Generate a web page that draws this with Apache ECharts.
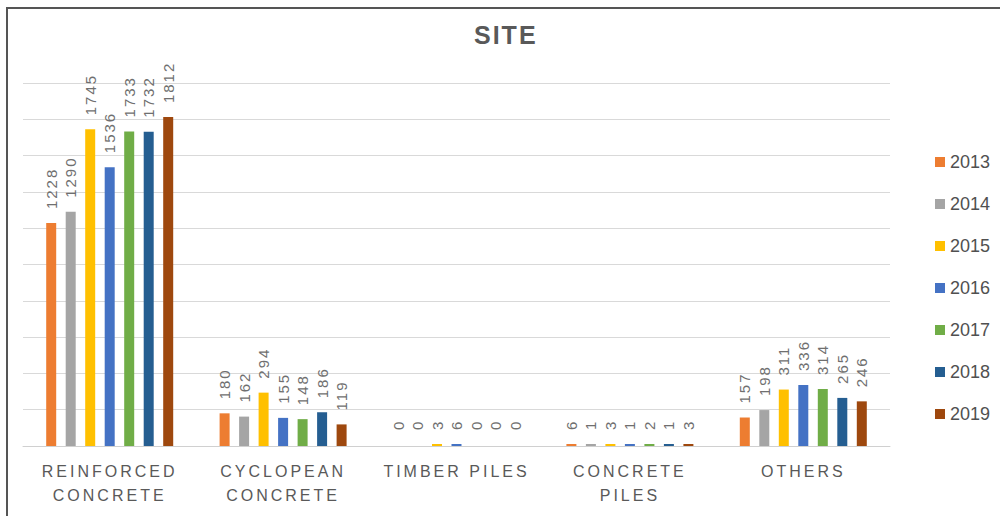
<!DOCTYPE html>
<html>
<head>
<meta charset="utf-8">
<title>SITE</title>
<script src="https://cdn.jsdelivr.net/npm/echarts@6/dist/echarts.min.js"></script>
<style>
  html, body { margin: 0; padding: 0; background: #fff; }
  #main { width: 1000px; height: 516px; }
  /* the original Excel chart uses spaced-out lettering */
  #main text[style*="25px"] { letter-spacing: 2px; }
  #main text[style*="16px"] { letter-spacing: 3px; }
  #main text[style*="15px"] { letter-spacing: 2px; }
</style>
</head>
<body>
<div id="main"></div>
<script>
// categories (wrapped like in the original)
const categories = ['REINFORCED\nCONCRETE', 'CYCLOPEAN\nCONCRETE', 'TIMBER PILES', 'CONCRETE\nPILES', 'OTHERS'];
const years = ['2013', '2014', '2015', '2016', '2017', '2018', '2019'];
const colors = ['#ED7D31', '#A5A5A5', '#FFC000', '#4472C4', '#70AD47', '#255E91', '#9E480E'];

// values per year, in category order
const v2013 = [1228, 180, 0, 6, 157];
const v2014 = [1290, 162, 0, 1, 198];
const v2015 = [1745, 294, 3, 3, 311];
const v2016 = [1536, 155, 6, 1, 336];
const v2017 = [1733, 148, 0, 2, 314];
const v2018 = [1732, 186, 0, 1, 265];
const v2019 = [1812, 119, 0, 3, 246];
const values = [v2013, v2014, v2015, v2016, v2017, v2018, v2019];

const chartDom = document.getElementById('main');
const myChart = echarts.init(chartDom, null, { renderer: 'svg' });

const series = years.map((y, i) => ({
  name: y,
  type: 'bar',
  barWidth: 10,
  barGap: '95%',
  barMinHeight: 2,
  itemStyle: { color: colors[i] },
  // zero values: keep the label, hide the min-height stub
  data: values[i].map(v => v === 0 ? { value: 0, itemStyle: { color: 'rgba(0,0,0,0)' } } : v),
  labelLayout: { hideOverlap: false },
  label: {
    show: true,
    position: 'top',
    rotate: 90,
    align: 'left',
    verticalAlign: 'middle',
    distance: 14,
    color: '#6f6f6f',
    fontSize: 15,
    fontFamily: 'Liberation Sans'
  }
}));

const option = {
  animation: false,
  backgroundColor: '#fff',
  color: colors,
  title: {
    text: 'SITE',
    left: 469,
    top: 17,
    textStyle: { fontSize: 25, fontWeight: 'bold', color: '#595959', fontFamily: 'Liberation Sans' }
  },
  legend: {
    orient: 'vertical',
    left: 930,
    top: 148,
    icon: 'rect',
    itemWidth: 10,
    itemHeight: 10,
    itemGap: 24,
    textStyle: { fontSize: 18, color: '#505050', fontFamily: 'Liberation Sans' },
    data: years
  },
  grid: { left: 23, right: 110, top: 83, bottom: 70, outerBoundsMode: 'none' },
  xAxis: {
    type: 'category',
    data: categories,
    axisTick: { show: false },
    axisLine: { lineStyle: { color: '#d0d0d0', width: 1 } },
    axisLabel: {
      interval: 0,
      margin: 13,
      color: '#595959',
      fontSize: 16,
      lineHeight: 24,
      fontFamily: 'Liberation Sans'
    }
  },
  yAxis: {
    type: 'value',
    min: 0,
    max: 2000,
    interval: 200,
    axisLabel: { show: false },
    axisLine: { show: false },
    axisTick: { show: false },
    splitLine: { lineStyle: { color: '#d9d9d9', width: 1 } }
  },
  graphic: [{
    type: 'rect',
    shape: { x: 7, y: 8, width: 1100, height: 600 },
    style: { fill: 'none', stroke: '#555', lineWidth: 2 },
    silent: true
  }],
  series: series
};

option && myChart.setOption(option);
</script>
</body>
</html>
